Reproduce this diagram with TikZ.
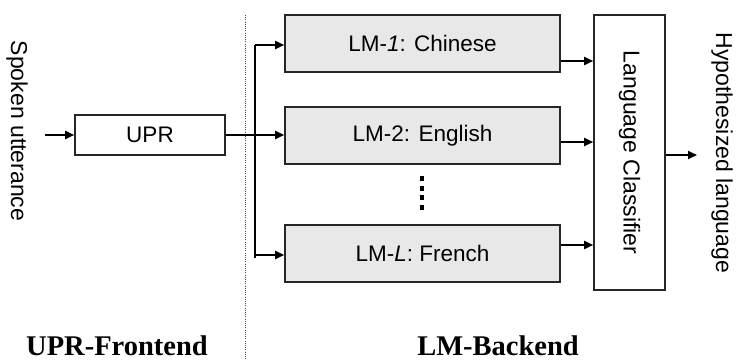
\documentclass[tikz,border=0pt]{standalone}
\usepackage{fontspec}
\setmainfont{Liberation Serif}
\setsansfont{Liberation Sans}
\usetikzlibrary{arrows.meta,calc}
\begin{document}
\begin{tikzpicture}[x=1pt,y=-1pt,
  box/.style={draw=black!85,line width=1.6pt,inner sep=0pt,font=\sffamily\fontsize{22.5}{24}\selectfont},
  lmbox/.style={box,fill=black!9,minimum width=275pt,minimum height=57pt},
  arr/.style={draw=black,line width=1.8pt,-{Triangle[length=9pt,width=8pt]}},
  ln/.style={draw=black,line width=1.8pt},
  vlab/.style={font=\sffamily\fontsize{23}{24}\selectfont,rotate=-90,inner sep=0pt},
  blab/.style={font=\bfseries\fontsize{28.5}{30}\selectfont,inner sep=0pt,anchor=base}]
\useasboundingbox (0,0) rectangle (736,360);
\fill[white] (0,0) rectangle (736,360);
% divider
\draw[black!70,line width=0.8pt,dash pattern=on 1pt off 1.2pt] (245,15) -- (245,360);
% nodes
\node[vlab] (spoken) at (17,131) {Spoken utterance};
\node[box,minimum width=150pt,minimum height=40pt] (upr) at (150,135) {UPR};
\node[lmbox] (lm1) at (422.5,43.5) {LM-\textit{1}: Chinese};
\node[lmbox] (lm2) at (422.5,135.5) {LM-2: English};
\node[lmbox] (lmL) at (422.5,253.5) {LM-\textit{L}: French};
\node[box,minimum width=71pt,minimum height=275pt] (lc) at (629.5,152.5) {};
\node[vlab] (lctext) at (lc.center) {Language Classifier};
\node[vlab] (hyp) at (722,153) {Hypothesized language};
\node[blab] (fe) at (117,355) {UPR-Frontend};
\node[blab] (be) at (498,355) {LM-Backend};
% vertical dots
\coordinate (d1) at (422,176);
\coordinate (d2) at (422,210);
\draw[black,line width=4pt,dash pattern=on 5pt off 4.67pt] (d1) -- (d2);
% connectors
\coordinate (in) at (45,135);
\draw[arr] (in) -- (upr.west);
\draw[arr] (upr.east) -- (upr.east -| lm2.west);
\coordinate (bt) at (255,45);
\coordinate (bb) at (255,258);
\draw[ln] (bt) -- (bb);
\coordinate (bL) at (255,255);
\draw[arr] (bt) -- (bt -| lm1.west);
\draw[arr] (bL) -- (bL -| lmL.west);
\coordinate (o1) at ($(lm1.east)+(0,17.5)$);
\coordinate (o2) at ($(lm2.east)+(0,6.5)$);
\coordinate (oL) at ($(lmL.east)+(0,-8.5)$);
\draw[arr] (o1) -- (o1 -| lc.west);
\draw[arr] (o2) -- (o2 -| lc.west);
\draw[arr] (oL) -- (oL -| lc.west);
\coordinate (out) at (697,155);
\draw[arr] (lc.east |- out) -- (out);
\end{tikzpicture}
\end{document}
